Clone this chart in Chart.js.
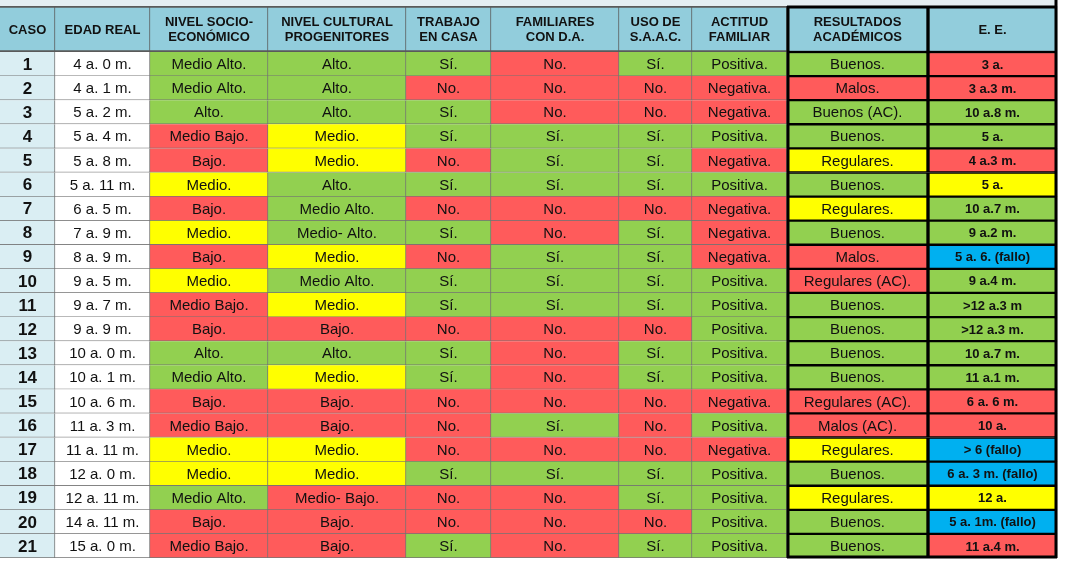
<!DOCTYPE html>
<html>
<head>
<meta charset="utf-8">
<script src="https://cdn.jsdelivr.net/npm/chart.js@4.4.1/dist/chart.umd.min.js"></script>
<style>
  html, body { margin: 0; padding: 0; background: #fff; }
  #wrap { width: 1070px; height: 564px; overflow: hidden; }
  canvas { display: block; }
</style>
</head>
<body>
<div id="wrap">
  <canvas id="header" width="1070" height="52"></canvas>
  <canvas id="table" width="1070" height="512"></canvas>
</div>
<script>
// Column titles
const headers = ["CASO", "EDAD REAL", "NIVEL SOCIO-\nECONÓMICO", "NIVEL CULTURAL\nPROGENITORES", "TRABAJO\nEN CASA",
  "FAMILIARES\nCON D.A.", "USO DE\nS.A.A.C.", "ACTITUD\nFAMILIAR", "RESULTADOS\nACADÉMICOS", "E. E."]

// Table data, one list per column
const casos = ["1", "2", "3", "4", "5", "6", "7", "8", "9", "10", "11", "12", "13", "14", "15", "16", "17", "18", "19", "20", "21"]
const edadReal = ["4 a. 0 m.", "4 a. 1 m.", "5 a. 2 m.", "5 a. 4 m.", "5 a. 8 m.", "5 a. 11 m.", "6 a. 5 m.", "7 a. 9 m.",
  "8 a. 9 m.", "9 a. 5 m.", "9 a. 7 m.", "9 a. 9 m.", "10 a. 0 m.", "10 a. 1 m.", "10 a. 6 m.", "11 a. 3 m.",
  "11 a. 11 m.", "12 a. 0 m.", "12 a. 11 m.", "14 a. 11 m.", "15 a. 0 m."]
const nivelSocio = ["Medio Alto.", "Medio Alto.", "Alto.", "Medio Bajo.", "Bajo.", "Medio.", "Bajo.", "Medio.", "Bajo.",
  "Medio.", "Medio Bajo.", "Bajo.", "Alto.", "Medio Alto.", "Bajo.", "Medio Bajo.", "Medio.", "Medio.",
  "Medio Alto.", "Bajo.", "Medio Bajo."]
const nivelCultural = ["Alto.", "Alto.", "Alto.", "Medio.", "Medio.", "Alto.", "Medio Alto.", "Medio- Alto.", "Medio.",
  "Medio Alto.", "Medio.", "Bajo.", "Alto.", "Medio.", "Bajo.", "Bajo.", "Medio.", "Medio.", "Medio- Bajo.",
  "Bajo.", "Bajo."]
const trabajoCasa = ["Sí.", "No.", "Sí.", "Sí.", "No.", "Sí.", "No.", "Sí.", "No.", "Sí.", "Sí.", "No.", "Sí.", "Sí.",
  "No.", "No.", "No.", "Sí.", "No.", "No.", "Sí."]
const familiaresDA = ["No.", "No.", "No.", "Sí.", "Sí.", "Sí.", "No.", "No.", "Sí.", "Sí.", "Sí.", "No.", "No.", "No.",
  "No.", "Sí.", "No.", "Sí.", "No.", "No.", "No."]
const usoSAAC = ["Sí.", "No.", "No.", "Sí.", "Sí.", "Sí.", "No.", "Sí.", "Sí.", "Sí.", "Sí.", "No.", "Sí.", "Sí.",
  "No.", "No.", "No.", "Sí.", "Sí.", "No.", "Sí."]
const actitud = ["Positiva.", "Negativa.", "Negativa.", "Positiva.", "Negativa.", "Positiva.", "Negativa.", "Negativa.",
  "Negativa.", "Positiva.", "Positiva.", "Positiva.", "Positiva.", "Positiva.", "Negativa.", "Positiva.",
  "Negativa.", "Positiva.", "Positiva.", "Positiva.", "Positiva."]
const resultados = ["Buenos.", "Malos.", "Buenos (AC).", "Buenos.", "Regulares.", "Buenos.", "Regulares.", "Buenos.",
  "Malos.", "Regulares (AC).", "Buenos.", "Buenos.", "Buenos.", "Buenos.", "Regulares (AC).", "Malos (AC).",
  "Regulares.", "Buenos.", "Regulares.", "Buenos.", "Buenos."]
const ee = ["3 a.", "3 a.3 m.", "10 a.8 m.", "5 a.", "4 a.3 m.", "5 a.", "10 a.7 m.", "9 a.2 m.", "5 a. 6. (fallo)",
  "9 a.4 m.", ">12 a.3 m", ">12 a.3 m.", "10 a.7 m.", "11 a.1 m.", "6 a. 6 m.", "10 a.", "> 6 (fallo)",
  "6 a. 3 m. (fallo)", "12 a.", "5 a. 1m. (fallo)", "11 a.4 m."]
// E. E. cell shading: r = red, g = green, y = yellow, b = blue
const eeNivel = ["r", "r", "g", "g", "r", "y", "g", "g", "b", "g", "g", "g", "g", "g", "r", "r", "b", "b", "y", "b", "r"]

// Colours
const GREEN = "#92d050"
const RED = "#ff5b5b"
const YELLOW = "#ffff00"
const BLUE = "#00b0f0"
const HEADER_BG = "#92cddc"
const CASO_BG = "#daeef3"

const valueColor = {
  "Alto.": GREEN, "Medio Alto.": GREEN, "Medio- Alto.": GREEN, "Medio.": YELLOW,
  "Medio Bajo.": RED, "Medio- Bajo.": RED, "Bajo.": RED,
  "Sí.": GREEN, "No.": RED, "Positiva.": GREEN, "Negativa.": RED,
  "Buenos.": GREEN, "Buenos (AC).": GREEN, "Regulares.": YELLOW,
  "Regulares (AC).": RED, "Malos.": RED, "Malos (AC).": RED,
}
const eeColor = { r: RED, g: GREEN, y: YELLOW, b: BLUE }

// Layout: width of each column in pixels, the last two are framed in black
const colWidths = [55, 95, 118, 138, 85, 128, 73, 95, 141, 129]
const blockStart = 8
const FONT = "'Liberation Sans', Arial, sans-serif"

function cellDataset(col, texts, colors, font, gridColor, gridWidth) {
  const framed = col >= blockStart
  return {
    data: texts.map(() => colWidths[col]),
    texts: texts,
    font: font,
    backgroundColor: colors,
    borderColor: framed ? "#000" : gridColor,
    borderWidth: framed ? { top: 1.5, bottom: 1.5, left: 2, right: 2 } : gridWidth,
    borderSkipped: false,
    barPercentage: 1,
    categoryPercentage: 1,
  }
}

// Draw the text of every cell in the middle of its bar
const cellText = {
  id: "cellText",
  afterDatasetsDraw(chart) {
    const ctx = chart.ctx
    ctx.save()
    ctx.textAlign = "center"
    ctx.textBaseline = "middle"
    chart.data.datasets.forEach((ds, i) => {
      chart.getDatasetMeta(i).data.forEach((bar, j) => {
        const { x, base, y } = bar.getProps(["x", "base", "y"], true)
        const lines = String(ds.texts[j]).split("\n")
        ctx.font = ds.font
        ctx.fillStyle = "#111"
        lines.forEach((line, k) => {
          ctx.fillText(line, (x + base) / 2, y + (k - (lines.length - 1) / 2) * 15 + 1)
        })
      })
    })
    ctx.restore()
  },
}

// Thick black frame around the last two columns
const blockFrame = {
  id: "blockFrame",
  beforeDatasetsDraw(chart, args, opts) {
    if (!opts.strip) return
    const last = chart.getDatasetMeta(colWidths.length - 1).data[0]
    chart.ctx.fillStyle = "#e4eef2"
    chart.ctx.fillRect(0, 0, last.x, chart.chartArea.top)
  },
  afterDatasetsDraw(chart, args, opts) {
    const ctx = chart.ctx
    const left = chart.getDatasetMeta(blockStart).data[0].base
    const right = chart.getDatasetMeta(colWidths.length - 1).data[0].x
    const { top, bottom } = chart.chartArea
    ctx.save()
    ctx.strokeStyle = "#000"
    ctx.lineWidth = 3
    ctx.beginPath()
    ctx.moveTo(left + 1, opts.strip ? top : top)
    ctx.lineTo(left + 1, bottom)
    ctx.moveTo(right - 1, opts.strip ? 0 : top)
    ctx.lineTo(right - 1, bottom)
    if (opts.closeTop) {
      ctx.moveTo(left, top + 1)
      ctx.lineTo(right, top + 1)
    }
    if (opts.closeBottom) {
      ctx.moveTo(left, bottom - 1)
      ctx.lineTo(right, bottom - 1)
    }
    ctx.stroke()
    ctx.restore()
  },
}

function makeChart(canvas, labels, datasets, padding, frame) {
  return new Chart(canvas, {
    type: "bar",
    data: { labels: labels, datasets: datasets },
    options: {
      indexAxis: "y",
      responsive: false,
      animation: false,
      devicePixelRatio: 1,
      layout: { padding: padding },
      scales: {
        x: { stacked: true, min: 0, max: 1070, display: false },
        y: { stacked: true, display: false },
      },
      plugins: {
        legend: { display: false },
        tooltip: { enabled: false },
        blockFrame: frame,
      },
    },
    plugins: [cellText, blockFrame],
  })
}

// Header row
const headerFont = "bold 13px " + FONT
makeChart(
  document.getElementById("header"),
  ["header"],
  headers.map((h, c) =>
    cellDataset(c, [h], [HEADER_BG], headerFont, "#5a5a5a", { top: 2, bottom: 2, left: 0, right: 1 })
  ),
  { top: 6, bottom: 0, left: 0, right: 0 },
  { strip: true, closeTop: true, closeBottom: false }
)

// Body rows
const body = "15px " + FONT
const columns = [
  { texts: casos, colors: casos.map(() => CASO_BG), font: "bold 17px " + FONT },
  { texts: edadReal, colors: edadReal.map(() => "#ffffff"), font: body },
  { texts: nivelSocio, colors: nivelSocio.map((v) => valueColor[v]), font: body },
  { texts: nivelCultural, colors: nivelCultural.map((v) => valueColor[v]), font: body },
  { texts: trabajoCasa, colors: trabajoCasa.map((v) => valueColor[v]), font: body },
  { texts: familiaresDA, colors: familiaresDA.map((v) => valueColor[v]), font: body },
  { texts: usoSAAC, colors: usoSAAC.map((v) => valueColor[v]), font: body },
  { texts: actitud, colors: actitud.map((v) => valueColor[v]), font: body },
  { texts: resultados, colors: resultados.map((v) => valueColor[v]), font: body },
  { texts: ee, colors: eeNivel.map((n) => eeColor[n]), font: "bold 13px " + FONT },
]
makeChart(
  document.getElementById("table"),
  casos,
  columns.map((col, c) =>
    cellDataset(c, col.texts, col.colors, col.font, "#737373", { top: 0, bottom: 1, left: 0, right: 1 })
  ),
  { top: 0, bottom: 6, left: 0, right: 0 },
  { strip: false, closeTop: false, closeBottom: true }
)
</script>
</body>
</html>
